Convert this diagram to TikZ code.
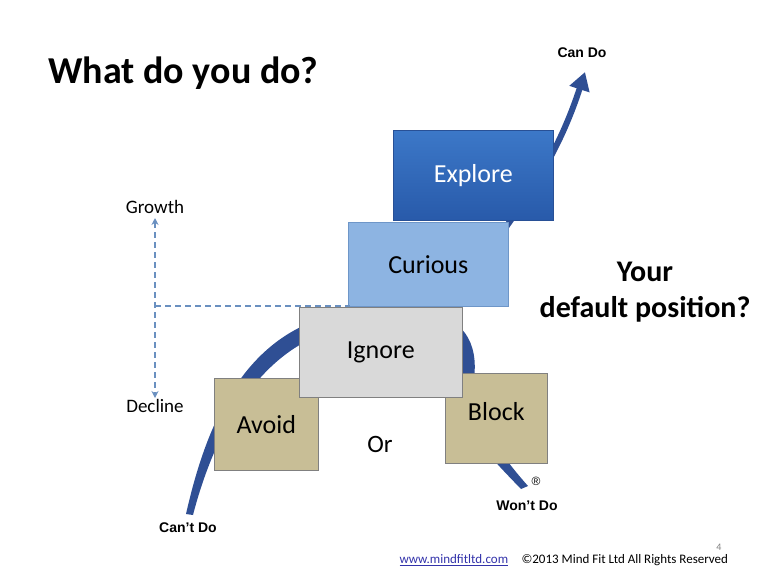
\documentclass[tikz,border=0pt]{standalone}
\usepackage{fontspec}
\setmainfont{Carlito}
\newfontfamily\capfont{Liberation Sans}
\usetikzlibrary{arrows.meta}
\definecolor{curve}{HTML}{2F4F94}
\definecolor{dashcol}{HTML}{6A90C0}
\begin{document}
\begin{tikzpicture}[x=1pt,y=-1pt,
  box/.style={line width=0.6pt, anchor=north west, inner sep=0pt, font=\fontsize{26}{28}\selectfont},
  lbl/.style={font=\fontsize{19}{21}\selectfont},
  endlbl/.style={font=\fontsize{14}{16}\capfont\bfseries},
  dashline/.style={dash pattern=on 6pt off 4pt, line width=1.3pt, draw=dashcol}]
\useasboundingbox (0,0) rectangle (768,576);
% curves
\fill[curve] (186,514) .. controls (205,430) and (240,340) .. (330,316)
  .. controls (400,298) and (492,300) .. (472,390)
  .. controls (482,430) and (505,460) .. (528,486)
  -- (521,489) .. controls (495,462) and (463,430) .. (453,395)
  .. controls (468,332) and (400,322) .. (335,330)
  .. controls (260,350) and (215,430) .. (193,515) -- cycle;
\draw[curve, line width=6pt, -{Triangle[length=18pt,width=20pt]}] (455,300) .. controls (500,230) and (550,180) .. (585,72);
% boxes
\node[box, draw=gray, fill={rgb,255:red,200;green,190;blue,150}, minimum width=104pt, minimum height=92pt] (avoid) at (214,378) {Avoid};
\node[box, draw=gray, fill={rgb,255:red,200;green,190;blue,150}, minimum width=102pt, minimum height=90pt, text depth=14pt] (block) at (445,373) {Block};
\node[box, draw=gray, fill={rgb,255:red,217;green,217;blue,217}, minimum width=163pt, minimum height=90pt] (ignore) at (299,307) {Ignore};
\node[box, draw={rgb,255:red,110;green,150;blue,200}, fill={rgb,255:red,141;green,180;blue,226}, minimum width=160pt, minimum height=84pt] (curious) at (348,222) {Curious};
\node[box, draw={rgb,255:red,40;green,80;blue,150}, top color={rgb,255:red,60;green,120;blue,200}, bottom color={rgb,255:red,40;green,90;blue,170}, text=white, minimum width=160pt, minimum height=90pt] (explore) at (393,130) {Explore};
% texts
\node[anchor=west, font=\fontsize{38}{40}\selectfont\bfseries] (title) at (45,73) {What do you do?};
\node[lbl] (growth) at (155,207) {Growth};
\node[lbl] (decline) at (155,406) {Decline};
\node[font=\fontsize{25}{27}\selectfont] (or) at (380,444) {Or};
\node[align=center, font=\fontsize{30}{36}\selectfont\bfseries] (dp) at (645,292) {Your\\default position?};
\node[endlbl] (cando) at (582,53) {Can Do};
\node[endlbl] (cantdo) at (188,528) {Can’t Do};
\node[endlbl] (wontdo) at (527,506) {Won’t Do};
\node[font=\fontsize{12}{12}\capfont] (reg) at (536,481) {®};
\node[anchor=west, font=\fontsize{13}{15}\selectfont, text={rgb,255:red,50;green,50;blue,170}] (url) at (396,560) {\underline{www.mindfitltd.com}};
\node[anchor=west, font=\fontsize{13}{15}\selectfont] (copy) at (518,560) {©2013 Mind Fit Ltd All Rights Reserved};
\node[font=\fontsize{10}{10}\selectfont, text=gray] (pg) at (719,547) {4};
% dashed axis
\coordinate (hEnd) at (350,306);
\coordinate (vTop) at (155,218);
\coordinate (vBot) at (155,398);
\draw[dashline, {Stealth[length=7pt,width=7pt]}-{Stealth[length=7pt,width=7pt]}] (vTop) -- (vBot);
\draw[dashline] (155,306) -- (hEnd);
\end{tikzpicture}
\end{document}
